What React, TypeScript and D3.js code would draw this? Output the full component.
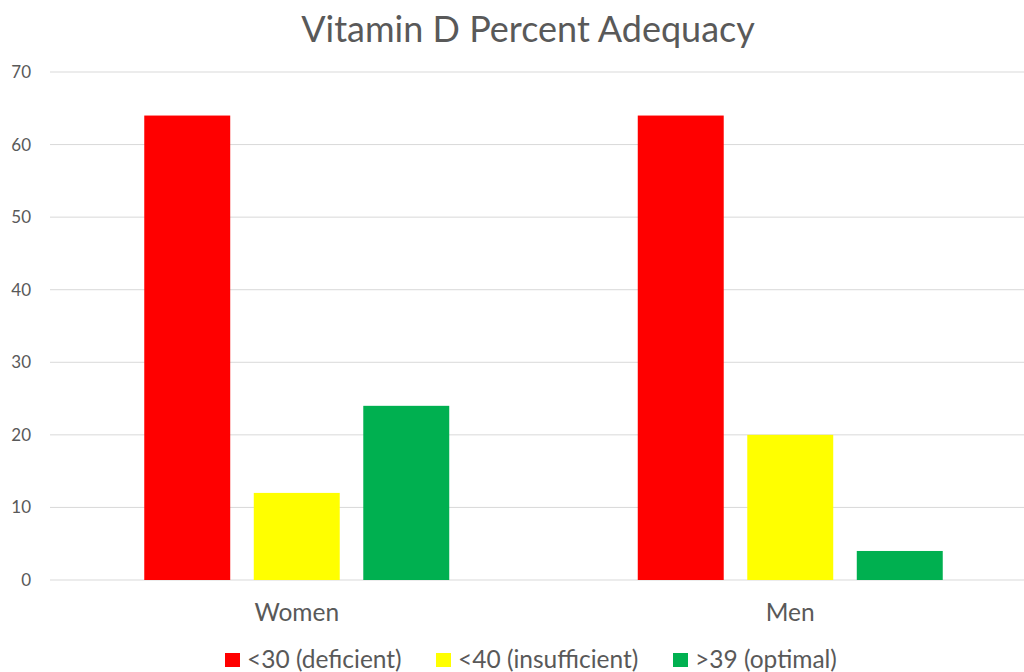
import React, { useEffect, useRef } from "react";
import * as d3 from "d3";

const categories = ["Women", "Men"];
const seriesNames = ["<30 (deficient)", "<40 (insufficient)", ">39 (optimal)"];
const seriesColors = ["#ff0000", "#ffff00", "#00b050"];
const deficient = [64, 64];
const insufficient = [12, 20];
const optimal = [24, 4];
const yTicks = [0, 10, 20, 30, 40, 50, 60, 70];

export default function App() {
  const ref = useRef<SVGSVGElement>(null);

  useEffect(() => {
    const width = 1024;
    const font = "Lato, 'Open Sans', sans-serif";
    const textColor = "#595959";

    const svg = d3.select(ref.current);
    svg.selectAll("*").remove();

    const values = [deficient, insufficient, optimal];

    const x0 = d3
      .scaleBand<string>()
      .domain(categories)
      .range([50, 1037])
      .paddingInner(0.382)
      .paddingOuter(0.191);
    const x1 = d3
      .scaleBand<string>()
      .domain(seriesNames)
      .range([0, x0.bandwidth()])
      .paddingInner(0.215)
      .paddingOuter(0);
    const y = d3.scaleLinear().domain([0, 70]).range([580, 72]);

    // gridlines
    svg
      .append("g")
      .selectAll("line")
      .data(yTicks)
      .join("line")
      .attr("x1", 50)
      .attr("x2", width)
      .attr("y1", (d) => y(d))
      .attr("y2", (d) => y(d))
      .attr("stroke", "#d9d9d9")
      .attr("stroke-width", 1);

    // y labels
    svg
      .append("g")
      .selectAll("text")
      .data(yTicks)
      .join("text")
      .attr("x", 31)
      .attr("y", (d) => y(d))
      .attr("dy", "0.35em")
      .attr("text-anchor", "end")
      .attr("font-family", font)
      .attr("font-size", 17)
      .attr("fill", textColor)
      .text((d) => d);

    // bars
    seriesNames.forEach((s, si) => {
      svg
        .append("g")
        .selectAll("rect")
        .data(categories)
        .join("rect")
        .attr("x", (c) => (x0(c) ?? 0) + (x1(s) ?? 0))
        .attr("y", (c, i) => y(values[si][i]))
        .attr("width", x1.bandwidth())
        .attr("height", (c, i) => y(0) - y(values[si][i]))
        .attr("fill", seriesColors[si]);
    });

    // category labels
    svg
      .append("g")
      .selectAll("text")
      .data(categories)
      .join("text")
      .attr("x", (c) => (x0(c) ?? 0) + x0.bandwidth() / 2)
      .attr("y", 621)
      .attr("text-anchor", "middle")
      .attr("font-family", font)
      .attr("font-size", 24.5)
      .attr("fill", textColor)
      .text((c) => c);

    // title
    svg
      .append("text")
      .attr("x", 528)
      .attr("y", 42)
      .attr("text-anchor", "middle")
      .attr("font-family", font)
      .attr("font-size", 36)
      .attr("fill", textColor)
      .text("Vitamin D Percent Adequacy");

    // legend
    const legendX = [225, 436, 673];
    const legend = svg
      .append("g")
      .selectAll("g")
      .data(seriesNames)
      .join("g")
      .attr("transform", (d, i) => `translate(${legendX[i]},0)`);
    legend
      .append("rect")
      .attr("x", 0)
      .attr("y", 653)
      .attr("width", 15)
      .attr("height", 14)
      .attr("fill", (d, i) => seriesColors[i]);
    legend
      .append("text")
      .attr("x", 22)
      .attr("y", 668)
      .attr("font-family", font)
      .attr("font-size", 24.5)
      .attr("fill", textColor)
      .text((d) => d);
  }, []);

  return (
    <svg
      ref={ref}
      width={1024}
      height={672}
      style={{ position: "absolute", left: 0, top: 0, background: "#fff" }}
    />
  );
}
